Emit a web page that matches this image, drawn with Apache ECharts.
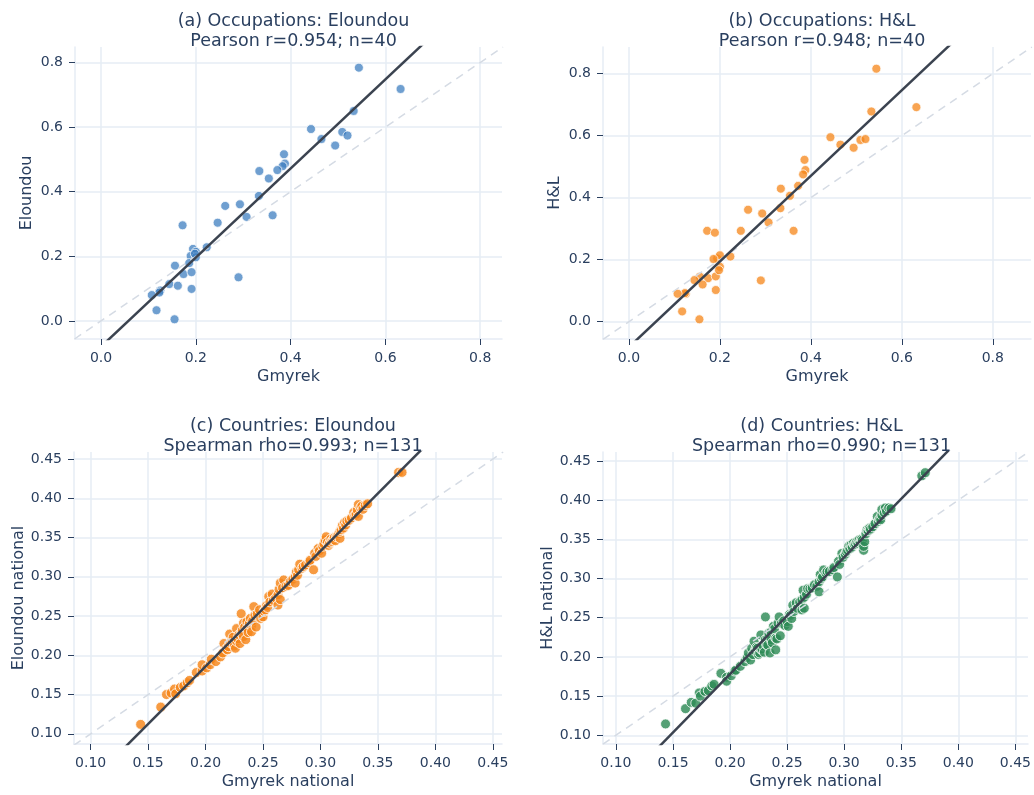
<!DOCTYPE html>
<html>
<head>
<meta charset="utf-8">
<script src="https://cdn.jsdelivr.net/npm/echarts@6/dist/echarts.min.js"></script>
<style>
html, body { margin: 0; padding: 0; background: #fff; }
#chart { width: 1034px; height: 795px; }
</style>
</head>
<body>
<div id="chart"></div>
<script>
// occupations (n=40)
const occGmyrek = [0.544, 0.632, 0.533, 0.443, 0.465, 0.509, 0.520, 0.494, 0.386, 0.388, 0.383, 0.372, 0.334, 0.354, 0.333, 0.262, 0.293, 0.307, 0.362, 0.246, 0.172, 0.223, 0.194, 0.200, 0.189, 0.200, 0.186, 0.156, 0.174, 0.191, 0.290, 0.144, 0.162, 0.191, 0.125, 0.123, 0.107, 0.117, 0.155, 0.198];
const occEloundou = [0.784, 0.718, 0.650, 0.594, 0.563, 0.585, 0.574, 0.543, 0.516, 0.487, 0.479, 0.467, 0.464, 0.441, 0.387, 0.356, 0.361, 0.322, 0.327, 0.304, 0.296, 0.228, 0.223, 0.214, 0.201, 0.197, 0.179, 0.171, 0.145, 0.151, 0.135, 0.114, 0.109, 0.099, 0.094, 0.088, 0.080, 0.033, 0.005, 0.208];
const occHL = [0.816, 0.692, 0.678, 0.595, 0.571, 0.586, 0.589, 0.561, 0.522, 0.489, 0.475, 0.438, 0.429, 0.406, 0.366, 0.361, 0.349, 0.320, 0.293, 0.293, 0.293, 0.210, 0.204, 0.214, 0.287, 0.177, 0.202, 0.145, 0.140, 0.146, 0.133, 0.134, 0.120, 0.102, 0.090, 0.092, 0.090, 0.033, 0.0075, 0.166];

// countries (n=131)
const cntGmyrek = [
  0.1435, 0.161, 0.166, 0.170, 0.173, 0.174, 0.178, 0.181, 0.184, 0.186,
  0.192, 0.197, 0.197, 0.201, 0.204, 0.205, 0.209, 0.213, 0.215, 0.216,
  0.218, 0.219, 0.220, 0.221, 0.222, 0.223, 0.224, 0.225, 0.226, 0.227,
  0.227, 0.228, 0.229, 0.230, 0.231, 0.231, 0.232, 0.233, 0.233, 0.234,
  0.235, 0.236, 0.236, 0.237, 0.238, 0.239, 0.240, 0.240, 0.241, 0.242,
  0.243, 0.244, 0.245, 0.247, 0.248, 0.250, 0.251, 0.252, 0.253, 0.254,
  0.255, 0.256, 0.258, 0.259, 0.261, 0.263, 0.263, 0.264, 0.265, 0.265,
  0.267, 0.268, 0.270, 0.272, 0.274, 0.276, 0.278, 0.278, 0.279, 0.280,
  0.281, 0.282, 0.284, 0.285, 0.287, 0.290, 0.291, 0.294, 0.295, 0.296,
  0.298, 0.299, 0.301, 0.302, 0.303, 0.304, 0.305, 0.306, 0.307, 0.308,
  0.309, 0.310, 0.311, 0.312, 0.313, 0.314, 0.315, 0.316, 0.317, 0.317,
  0.318, 0.319, 0.320, 0.321, 0.322, 0.323, 0.325, 0.327, 0.329, 0.330,
  0.331, 0.332, 0.333, 0.333, 0.335, 0.336, 0.337, 0.339, 0.341, 0.368, 0.371
];
const cntEloundou = [
  0.112, 0.134, 0.150, 0.152, 0.157, 0.151, 0.159, 0.161, 0.165, 0.168,
  0.178, 0.180, 0.188, 0.184, 0.188, 0.195, 0.192, 0.198, 0.203, 0.215,
  0.208, 0.207, 0.211, 0.227, 0.216, 0.219, 0.223, 0.212, 0.209, 0.234,
  0.218, 0.221, 0.226, 0.215, 0.228, 0.253, 0.232, 0.241, 0.224, 0.236,
  0.220, 0.243, 0.234, 0.229, 0.240, 0.247, 0.238, 0.230, 0.244, 0.262,
  0.251, 0.236, 0.253, 0.258, 0.247, 0.249, 0.256, 0.258, 0.263, 0.261,
  0.275, 0.268, 0.278, 0.270, 0.273, 0.277, 0.264, 0.284, 0.292, 0.271,
  0.286, 0.296, 0.288, 0.289, 0.294, 0.297, 0.300, 0.292, 0.306, 0.302,
  0.309, 0.316, 0.311, 0.313, 0.315, 0.318, 0.321, 0.309, 0.330, 0.326,
  0.336, 0.333, 0.330, 0.339, 0.342, 0.347, 0.351, 0.344, 0.340, 0.343,
  0.348, 0.345, 0.347, 0.350, 0.346, 0.351, 0.353, 0.355, 0.349, 0.358,
  0.360, 0.365, 0.362, 0.369, 0.366, 0.371, 0.372, 0.375, 0.382, 0.378,
  0.380, 0.385, 0.377, 0.392, 0.388, 0.390, 0.386, 0.391, 0.393, 0.433, 0.433
];
const cntHL = [
  0.1145, 0.134, 0.142, 0.141, 0.154, 0.150, 0.156, 0.157, 0.163, 0.165,
  0.179, 0.174, 0.169, 0.176, 0.182, 0.183, 0.188, 0.194, 0.199, 0.205,
  0.196, 0.211, 0.203, 0.220, 0.208, 0.212, 0.211, 0.203, 0.205, 0.228,
  0.210, 0.210, 0.214, 0.206, 0.222, 0.251, 0.216, 0.224, 0.215, 0.230,
  0.205, 0.232, 0.222, 0.218, 0.239, 0.236, 0.224, 0.209, 0.223, 0.243,
  0.251, 0.227, 0.243, 0.246, 0.240, 0.245, 0.239, 0.254, 0.253, 0.249,
  0.266, 0.258, 0.269, 0.262, 0.270, 0.273, 0.260, 0.285, 0.276, 0.262,
  0.280, 0.287, 0.287, 0.288, 0.292, 0.290, 0.283, 0.296, 0.305, 0.300,
  0.302, 0.311, 0.307, 0.309, 0.309, 0.311, 0.314, 0.302, 0.322, 0.318,
  0.332, 0.327, 0.331, 0.334, 0.336, 0.341, 0.338, 0.343, 0.340, 0.345,
  0.343, 0.344, 0.347, 0.345, 0.349, 0.346, 0.350, 0.349, 0.336, 0.341,
  0.347, 0.357, 0.362, 0.361, 0.364, 0.363, 0.366, 0.370, 0.379, 0.373,
  0.376, 0.375, 0.381, 0.388, 0.384, 0.390, 0.386, 0.390, 0.389, 0.431, 0.435
];

const occTicks = [0, 0.2, 0.4, 0.6, 0.8];
const cntTicks = [0.10, 0.15, 0.20, 0.25, 0.30, 0.35, 0.40, 0.45];

const TEXT = "#2a3f5f";
const GRID = "#e6ecf5";
const FONT = "DejaVu Sans";

function fit(xs, ys) {
  const n = xs.length;
  const mx = xs.reduce((a, b) => a + b, 0) / n;
  const my = ys.reduce((a, b) => a + b, 0) / n;
  let sxy = 0, sxx = 0;
  for (let i = 0; i < n; i++) {
    sxy += (xs[i] - mx) * (ys[i] - my);
    sxx += (xs[i] - mx) * (xs[i] - mx);
  }
  const slope = sxy / sxx;
  return { slope, intercept: my - slope * mx };
}

const panels = [
  {
    title: "(a) Occupations: Eloundou\nPearson r=0.954; n=40",
    xName: "Gmyrek", yName: "Eloundou",
    x: occGmyrek, y: occEloundou, ticks: occTicks, digits: 1,
    color: "#3f7fc0", opacity: 0.75, size: 9,
    box: { left: 75, top: 47, width: 427, height: 292 },
    xRange: [-0.055, 0.846], yRange: [-0.056, 0.848], yGap: 40, titleTop: 6
  },
  {
    title: "(b) Occupations: H&L\nPearson r=0.948; n=40",
    xName: "Gmyrek", yName: "H&L",
    x: occGmyrek, y: occHL, ticks: occTicks, digits: 1,
    color: "#f58518", opacity: 0.75, size: 9,
    box: { left: 603, top: 47, width: 428, height: 292 },
    xRange: [-0.057, 0.884], yRange: [-0.056, 0.886], yGap: 40, titleTop: 6
  },
  {
    title: "(c) Countries: Eloundou\nSpearman rho=0.993; n=131",
    xName: "Gmyrek national", yName: "Eloundou national",
    x: cntGmyrek, y: cntEloundou, ticks: cntTicks, digits: 2,
    color: "#f58518", opacity: 0.82, size: 10,
    box: { left: 74, top: 452, width: 428, height: 292 },
    xRange: [0.0855, 0.458], yRange: [0.087, 0.459], yGap: 47, titleTop: 411
  },
  {
    title: "(d) Countries: H&L\nSpearman rho=0.990; n=131",
    xName: "Gmyrek national", yName: "H&L national",
    x: cntGmyrek, y: cntHL, ticks: cntTicks, digits: 2,
    color: "#2e8b57", opacity: 0.82, size: 10,
    box: { left: 603, top: 452, width: 427, height: 292 },
    xRange: [0.0887, 0.461], yRange: [0.0889, 0.4614], yGap: 47, titleTop: 411
  }
];

function axisBase(p, i) {
  return {
    type: "value",
    gridIndex: i,
    nameLocation: "middle",
    nameTextStyle: { color: TEXT, fontSize: 16, fontFamily: FONT },
    axisLine: { show: true, onZero: false, lineStyle: { color: GRID, width: 1.5 } },
    axisTick: { show: true, customValues: p.ticks, length: 6, lineStyle: { color: TEXT, width: 1 } },
    axisLabel: {
      customValues: p.ticks,
      formatter: v => v.toFixed(p.digits),
      color: TEXT, fontSize: 14, fontFamily: FONT, margin: 12
    },
    splitLine: { show: true, lineStyle: { color: GRID, width: 1.5 } }
  };
}

const option = {
  animation: false,
  backgroundColor: "#fff",
  title: panels.map(p => ({
    text: p.title,
    left: p.box.left + p.box.width / 2,
    top: p.titleTop,
    textAlign: "center",
    textStyle: { color: TEXT, fontSize: 17.5, fontWeight: "normal", fontFamily: FONT, lineHeight: 20 }
  })),
  grid: panels.map(p => Object.assign({}, p.box)),
  xAxis: panels.map((p, i) => Object.assign(axisBase(p, i), {
    min: p.xRange[0], max: p.xRange[1], name: p.xName, nameGap: 30
  })),
  yAxis: panels.map((p, i) => Object.assign(axisBase(p, i), {
    min: p.yRange[0], max: p.yRange[1], name: p.yName, nameGap: p.yGap
  })),
  series: []
};

panels.forEach((p, i) => {
  const lo = Math.min(p.xRange[0], p.yRange[0]);
  const hi = Math.max(p.xRange[1], p.yRange[1]);
  const f = fit(p.x, p.y);
  option.series.push({
    type: "line", xAxisIndex: i, yAxisIndex: i, silent: true, symbol: "none",
    data: [[lo, lo], [hi, hi]],
    lineStyle: { color: "#d5dbe4", width: 1.5, type: [8, 6] }
  });
  option.series.push({
    type: "line", xAxisIndex: i, yAxisIndex: i, silent: true, symbol: "none",
    data: p.xRange.map(x => [x, f.intercept + f.slope * x]),
    lineStyle: { color: "#3b4350", width: 2.5 }
  });
  option.series.push({
    type: "scatter", xAxisIndex: i, yAxisIndex: i,
    data: p.x.map((x, k) => [x, p.y[k]]),
    symbolSize: p.size,
    itemStyle: { color: p.color, opacity: p.opacity, borderColor: "#ffffff", borderWidth: 1 }
  });
});

const chart = echarts.init(document.getElementById("chart"));
chart.setOption(option);
window.addEventListener("resize", () => chart.resize());
</script>
</body>
</html>
